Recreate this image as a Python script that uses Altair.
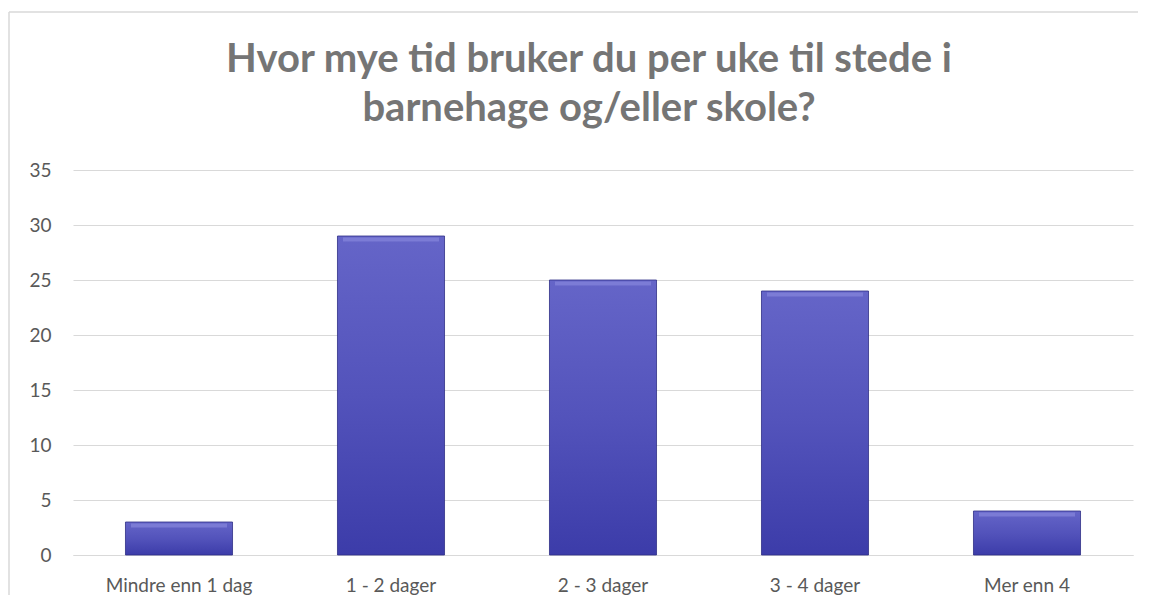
import altair as alt
import pandas as pd

categories = ["Mindre enn 1 dag", "1 - 2 dager", "2 - 3 dager", "3 - 4 dager", "Mer enn 4"]
values = [3, 29, 25, 24, 4]
y_ticks = [0, 5, 10, 15, 20, 25, 30, 35]
title_lines = ["Hvor mye tid bruker du per uke til stede i", "barnehage og/eller skole?"]

df = pd.DataFrame({"kategori": categories, "antall": values})

FONT = "Lato"
GRAY = "#595959"

x_enc = alt.X(
    "kategori:N",
    sort=categories,
    title=None,
    scale=alt.Scale(paddingInner=0.495, paddingOuter=0.2475),
    axis=alt.Axis(
        labelAngle=0, labelFont=FONT, labelFontSize=19, labelColor=GRAY,
        labelPadding=21, ticks=False, domainColor="#d9d9d9", domainWidth=1.2,
    ),
)
y_enc = alt.Y(
    "antall:Q",
    title=None,
    scale=alt.Scale(domain=[0, 35], nice=False),
    axis=alt.Axis(
        values=y_ticks, labelFont=FONT, labelFontSize=19, labelColor=GRAY,
        labelPadding=22, ticks=False, domain=False,
        gridColor="#d9d9d9", gridWidth=1.2,
    ),
)

bars = alt.Chart(df).mark_bar(
    color=alt.Gradient(
        gradient="linear",
        stops=[
            alt.GradientStop(color="#6565c8", offset=0),
            alt.GradientStop(color="#5353bb", offset=0.5),
            alt.GradientStop(color="#3c3ca9", offset=1),
        ],
        x1=0, x2=0, y1=0, y2=1,
    ),
    stroke="#2f2f85",
    strokeWidth=0.8,
).encode(x=x_enc, y=y_enc)

highlight = alt.Chart(df).mark_tick(
    color="#8c8ce0", thickness=4, size=96, yOffset=3.5, opacity=0.6,
).encode(x=alt.X("kategori:N", sort=categories), y=alt.Y("antall:Q"))

frame = pd.DataFrame({"a": [0]})
left_border = alt.Chart(frame).mark_rule(color="#d9d9d9", strokeWidth=1.5).encode(
    x=alt.value(-64), y=alt.value(-158), y2=alt.value(440)
)
top_border = alt.Chart(frame).mark_rule(color="#d9d9d9", strokeWidth=1.5).encode(
    x=alt.value(-64), x2=alt.value(1080), y=alt.value(-158)
)

title_layers = []
for i, line in enumerate(title_lines):
    title_layers.append(
        alt.Chart(pd.DataFrame({"line": [line]})).mark_text(
            font=FONT, fontSize=40, fontWeight="bold", color="#757575",
            align="center", baseline="alphabetic",
        ).encode(text="line:N", x=alt.value(516), y=alt.value(-98 + 49 * i))
    )

chart = alt.layer(left_border, top_border, bars, highlight, *title_layers).properties(
    width=1060,
    height=385,
    background="white",
    padding={"left": 65, "top": 162, "right": 5, "bottom": 40},
    autosize=alt.AutoSizeParams(type="none"),
).configure_view(strokeWidth=0, stroke="transparent")

chart.save("out.html", embed_options={"renderer": "svg", "actions": False})
